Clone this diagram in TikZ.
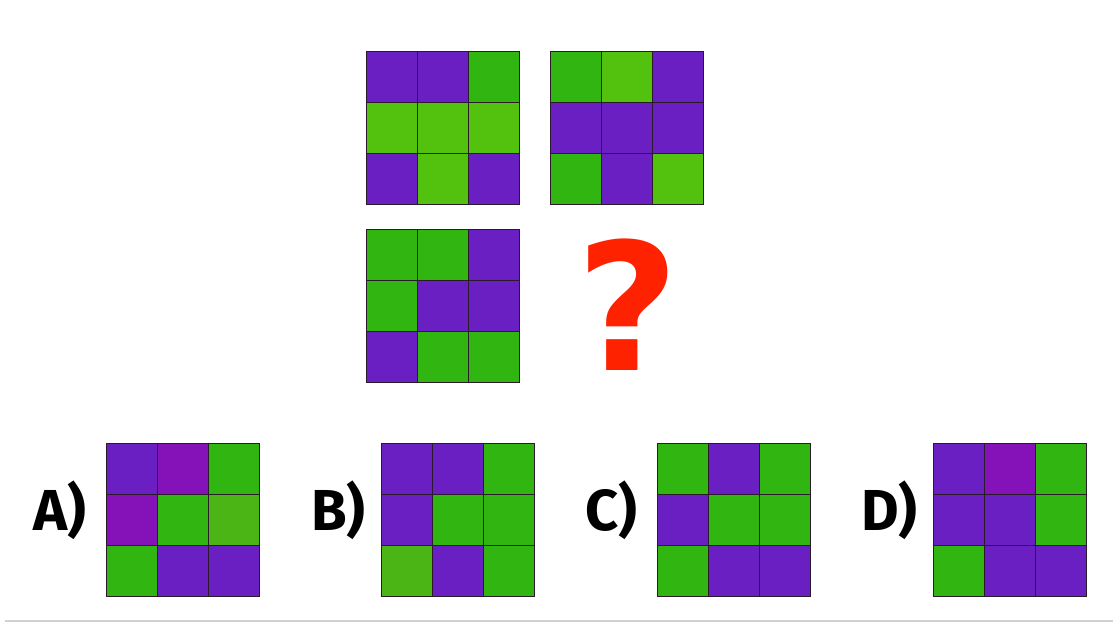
\documentclass[tikz,border=0pt]{standalone}
\usepackage{fontspec}
\usetikzlibrary{calc}
\newfontfamily\labelfont{Fira Sans}
\newfontfamily\markfont{DejaVu Sans}
\definecolor{purp}{HTML}{6A1FC3}
\definecolor{mauve}{HTML}{8512B8}
\definecolor{lgreen}{HTML}{53C20F}
\definecolor{dgreen}{HTML}{31B510}
\definecolor{olive}{HTML}{4BB515}
\definecolor{qred}{HTML}{FF2200}
\definecolor{cellline}{HTML}{2A1A2A}
% #1 = top left corner, #2 = the nine cell colours, row by row
\newcommand{\drawGrid}[2]{
	\foreach \clr [count=\i from 0] in {#2} {
		\pgfmathtruncatemacro{\col}{mod(\i,3)}
		\pgfmathtruncatemacro{\row}{div(\i,3)}
		\filldraw[fill=\clr, draw=cellline, line width=0.8] ($(#1)+(\col*51,\row*51)$) rectangle ++(51,51);
	}
}

\begin{document}
\begin{tikzpicture}[x=1bp, y=-1bp,
	optlabel/.style={anchor=base west, inner sep=0, font=\labelfont\bfseries\fontsize{58}{58}\selectfont},
	qmark/.style={inner sep=0, text=qred, font=\markfont\bfseries\fontsize{178}{178}\selectfont}]
		\fill[white] (0,0) rectangle (1113,622);
		\useasboundingbox (0,0) rectangle (1113,622);

		\coordinate (G_TL) at (366,51);
		\coordinate (G_TR) at (550,51);
		\coordinate (G_ML) at (366,229);
		\coordinate (G_A) at (106,443);
		\coordinate (G_B) at (381,443);
		\coordinate (G_C) at (657,443);
		\coordinate (G_D) at (933,443);

		\drawGrid{G_TL}{purp,purp,dgreen,lgreen,lgreen,lgreen,purp,lgreen,purp}
		\drawGrid{G_TR}{dgreen,lgreen,purp,purp,purp,purp,dgreen,purp,lgreen}
		\drawGrid{G_ML}{dgreen,dgreen,purp,dgreen,purp,purp,purp,dgreen,dgreen}
		\node[qmark] (quest) at (628,305) {?};

		\drawGrid{G_A}{purp,mauve,dgreen,mauve,dgreen,olive,dgreen,purp,purp}
		\drawGrid{G_B}{purp,purp,dgreen,purp,dgreen,dgreen,olive,purp,dgreen}
		\drawGrid{G_C}{dgreen,purp,dgreen,purp,dgreen,dgreen,dgreen,purp,purp}
		\drawGrid{G_D}{purp,mauve,dgreen,purp,purp,dgreen,dgreen,purp,purp}

		\node[optlabel] (labA) at (33,530) {A)};
		\node[optlabel] (labB) at (311,530) {B)};
		\node[optlabel] (labC) at (585,530) {C)};
		\node[optlabel] (labD) at (861,530) {D)};

		\draw[black!18, line width=1.2] (5,621) -- (1113,621);
	\end{tikzpicture}
\end{document}
